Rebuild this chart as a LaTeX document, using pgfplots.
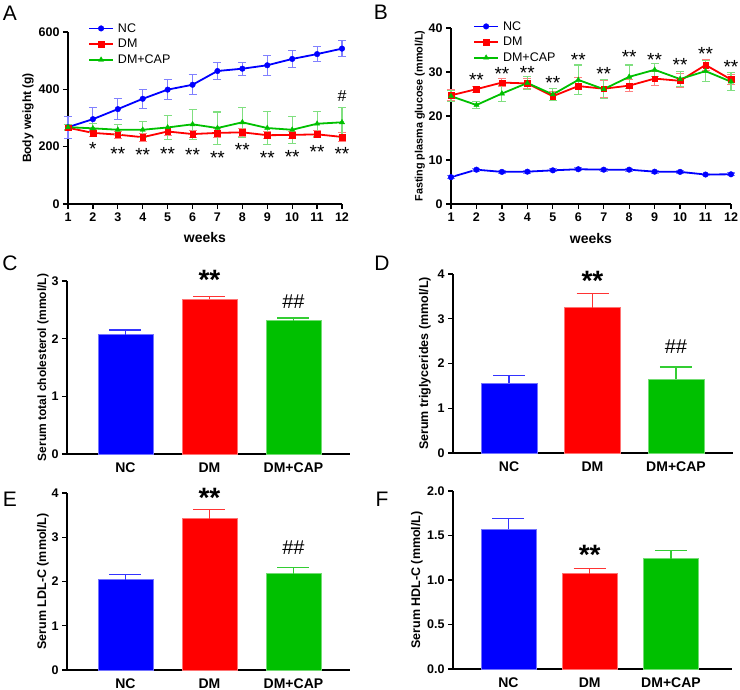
\documentclass[border=0pt]{standalone}
\usepackage{pgfplots}
\pgfplotsset{compat=1.18}
\usepackage{fontspec}
\setmainfont{Liberation Sans}

\definecolor{gpblue}{RGB}{0,0,255}
\definecolor{gpred}{RGB}{255,0,0}
\definecolor{gpgreen}{RGB}{0,192,0}

\pgfplotsset{
  prism/.style={
    scale only axis, clip=false,
    axis lines=left,
    axis line style={-, line width=1.7pt},
    tick align=outside,
    major tick length=5pt,
    tick style={black, line width=1.3pt},
    ticklabel style={font=\bfseries\fontsize{12.5}{14}\selectfont},
    /pgf/number format/assume math mode=true,
    ylabel style={anchor=center},
  },
  wk/.style={prism, xmin=1, xmax=12, xtick={1,...,12}, xlabel={weeks},
    xlabel style={font=\bfseries\fontsize{14}{16}\selectfont,
      at={(axis description cs:0.5,-0.195)}, anchor=center},
    legend cell align=left,
    legend image code/.code={\draw[mark repeat=2, mark phase=2, ##1]
      plot coordinates {(0pt,0pt) (12pt,0pt) (24pt,0pt)};},
    legend style={draw=none, fill=none, anchor=north west,
      font=\fontsize{12.5}{14}\selectfont, row sep=1.5pt,
      nodes={inner xsep=4pt}},
  },
  bars/.style={prism, xtick={0,1,2}, xticklabels={NC,DM,DM+CAP},
    xtick style={draw=none},
    xticklabel style={font=\bfseries\fontsize{14}{16}\selectfont},
  },
  grp/.style={line width=1.8pt, #1, mark options={solid, line width=0.4pt},
    /pgfplots/error bars/y dir=both, /pgfplots/error bars/y explicit,
    /pgfplots/error bars/error bar style={#1!50, line width=1.1pt},
    /pgfplots/error bars/error mark options={rotate=90, #1!50, mark size=4pt, line width=1.1pt}},
  bar/.style n args={2}{ybar, bar width=#2, bar shift=0pt, fill=#1, draw=#1!55, line width=0.6pt,
    /pgfplots/error bars/y dir=plus, /pgfplots/error bars/y explicit,
    /pgfplots/error bars/error bar style={#1!80, line width=1.2pt},
    /pgfplots/error bars/error mark options={rotate=90, #1!80, mark size=16pt, line width=1.2pt}},
  stars/.style n args={2}{draw=none, mark=none, forget plot, nodes near coords,
    point meta=explicit symbolic,
    every node near coord/.append style={anchor=center, font=#1, yshift=#2, text=black}},
}

\begin{document}
\begin{tikzpicture}
\useasboundingbox (0,0) rectangle (740pt,-690pt);

% panel letters
\node[font=\fontsize{21}{21}\selectfont] at (10pt,-13pt) {A};
\node[font=\fontsize{21}{21}\selectfont] at (381pt,-12pt) {B};
\node[font=\fontsize{21}{21}\selectfont] at (10pt,-263pt) {C};
\node[font=\fontsize{21}{21}\selectfont] at (382pt,-263pt) {D};
\node[font=\fontsize{21}{21}\selectfont] at (10pt,-499pt) {E};
\node[font=\fontsize{21}{21}\selectfont] at (382pt,-499pt) {F};

% A: body weight
\begin{axis}[wk, at={(68pt,-204pt)}, anchor=south west, width=274pt, height=172pt,
  ymin=0, ymax=600, ytick={0,200,400,600},
  ylabel={Body weight (g)},
  ylabel style={font=\bfseries\fontsize{12}{14}\selectfont, at={(axis description cs:-0.146,0.5)}},
  legend style={at={(axis description cs:0.062,1.075)}}]
\addplot[grp=gpblue, mark=*, mark size=2.8pt] coordinates {
  (1,268) +- (0,38) (2,296) +- (0,41) (3,331) +- (0,36) (4,367) +- (0,34)
  (5,399) +- (0,34) (6,416) +- (0,35) (7,464) +- (0,31) (8,472) +- (0,23)
  (9,484) +- (0,35) (10,506) +- (0,31) (11,523) +- (0,27) (12,542) +- (0,29)};
\addlegendentry{NC}
\addplot[grp=gpred, mark=square*, mark size=2.8pt] coordinates {
  (1,266) +- (0,10) (2,248) +- (0,12) (3,242) +- (0,12) (4,233) +- (0,14)
  (5,253) +- (0,14) (6,244) +- (0,12) (7,248) +- (0,16) (8,250) +- (0,14)
  (9,240) +- (0,13) (10,241) +- (0,12) (11,243) +- (0,12) (12,234) +- (0,16)};
\addlegendentry{DM}
\addplot[grp=gpgreen, mark=triangle*, mark size=3pt] coordinates {
  (1,268) +- (0,10) (2,264) +- (0,16) (3,259) +- (0,18) (4,259) +- (0,28)
  (5,267) +- (0,42) (6,278) +- (0,53) (7,265) +- (0,56) (8,285) +- (0,53)
  (9,265) +- (0,57) (10,259) +- (0,47) (11,280) +- (0,43) (12,285) +- (0,53)};
\addlegendentry{DM+CAP}
\addplot[stars={\fontsize{19}{19}\selectfont}{-4pt}] coordinates {
  (2,205) [*] (3,190) [**] (4,184) [**] (5,190) [**] (6,184) [**] (7,174) [**]
  (8,201) [**] (9,174) [**] (10,178) [**] (11,195) [**] (12,187) [**]};
\addplot[stars={\fontsize{16}{16}\selectfont}{0pt}] coordinates {(12,376) [\#]};
\end{axis}

% B: fasting plasma glucose
\begin{axis}[wk, at={(451pt,-204pt)}, anchor=south west, width=280pt, height=176pt,
  ymin=0, ymax=40, ytick={0,10,20,30,40},
  ylabel={Fasting plasma glucose (mmol/L)},
  ylabel style={font=\bfseries\fontsize{10.8}{12}\selectfont, at={(axis description cs:-0.111,0.5)}},
  legend style={at={(axis description cs:0.068,1.062)}}]
\addplot[grp=gpblue, mark=*, mark size=2.8pt] coordinates {
  (1,6.1) +- (0,0.3) (2,7.8) +- (0,0.3) (3,7.3) +- (0,0.3) (4,7.35) +- (0,0.3)
  (5,7.65) +- (0,0.3) (6,7.9) +- (0,0.3) (7,7.8) +- (0,0.3) (8,7.8) +- (0,0.3)
  (9,7.35) +- (0,0.3) (10,7.3) +- (0,0.3) (11,6.7) +- (0,0.3) (12,6.75) +- (0,0.3)};
\addlegendentry{NC}
\addplot[grp=gpred, mark=square*, mark size=2.8pt] coordinates {
  (1,24.7) +- (0,1.3) (2,26.1) +- (0,0.7) (3,27.6) +- (0,0.9) (4,27.4) +- (0,1.1)
  (5,24.5) +- (0,1.0) (6,26.8) +- (0,1.9) (7,26.2) +- (0,1.9) (8,26.9) +- (0,1.4)
  (9,28.5) +- (0,1.6) (10,28.0) +- (0,1.6) (11,31.6) +- (0,1.2) (12,28.3) +- (0,1.2)};
\addlegendentry{DM}
\addplot[grp=gpgreen, mark=triangle*, mark size=3pt] coordinates {
  (1,24.5) +- (0,1.3) (2,22.5) +- (0,0.8) (3,25.1) +- (0,1.9) (4,27.5) +- (0,1.4)
  (5,24.9) +- (0,1.3) (6,28.2) +- (0,3.4) (7,26.1) +- (0,2.2) (8,28.9) +- (0,2.7)
  (9,30.5) +- (0,1.5) (10,28.4) +- (0,1.7) (11,30.2) +- (0,2.4) (12,27.8) +- (0,2.0)};
\addlegendentry{DM+CAP}
\addplot[stars={\fontsize{19}{19}\selectfont}{-4pt}] coordinates {
  (2,29.2) [**] (3,30.5) [**] (4,30.8) [**] (5,28.5) [**] (6,33.6) [**] (7,30.4) [**]
  (8,34.3) [**] (9,33.6) [**] (10,32.4) [**] (11,35.1) [**] (12,32.0) [**]};
\end{axis}

% C: total cholesterol
\begin{axis}[bars, at={(67pt,-454pt)}, anchor=south west, width=283pt, height=173pt,
  xmin=-0.696, xmax=2.673, ymin=0, ymax=3, ytick={0,1,2,3},
  ylabel={Serum total cholesterol (mmol/L)},
  ylabel style={font=\bfseries\fontsize{12}{14}\selectfont, at={(axis description cs:-0.085,0.5)}}]
\addplot[bar={gpblue}{55pt}] coordinates {(0,2.07) +- (0,0.08)};
\addplot[bar={gpred}{55pt}] coordinates {(1,2.68) +- (0,0.05)};
\addplot[bar={gpgreen}{55pt}] coordinates {(2,2.31) +- (0,0.05)};
\addplot[stars={\bfseries\fontsize{28}{28}\selectfont}{-6pt}] coordinates {(1,3.12) [**]};
\addplot[stars={\fontsize{20}{20}\selectfont}{0pt}] coordinates {(2,2.64) [\#\#]};
\end{axis}

% D: triglycerides
\begin{axis}[bars, at={(453pt,-453pt)}, anchor=south west, width=280pt, height=179pt,
  xmin=-0.671, xmax=2.683, ymin=0, ymax=4, ytick={0,1,2,3,4},
  ylabel={Serum triglycerides (mmol/L)},
  ylabel style={font=\bfseries\fontsize{12.5}{14}\selectfont, at={(axis description cs:-0.1,0.5)}}]
\addplot[bar={gpblue}{56pt}] coordinates {(0,1.56) +- (0,0.18)};
\addplot[bar={gpred}{56pt}] coordinates {(1,3.25) +- (0,0.32)};
\addplot[bar={gpgreen}{56pt}] coordinates {(2,1.65) +- (0,0.27)};
\addplot[stars={\bfseries\fontsize{28}{28}\selectfont}{-6pt}] coordinates {(1,3.98) [**]};
\addplot[stars={\fontsize{20}{20}\selectfont}{0pt}] coordinates {(2,2.38) [\#\#]};
\end{axis}

% E: LDL-C
\begin{axis}[bars, at={(67pt,-670pt)}, anchor=south west, width=283pt, height=177pt,
  xmin=-0.696, xmax=2.673, ymin=0, ymax=4, ytick={0,1,2,3,4},
  ylabel={Serum LDL-C (mmol/L)},
  ylabel style={font=\bfseries\fontsize{12.5}{14}\selectfont, at={(axis description cs:-0.085,0.5)}}]
\addplot[bar={gpblue}{55pt}] coordinates {(0,2.04) +- (0,0.11)};
\addplot[bar={gpred}{55pt}] coordinates {(1,3.42) +- (0,0.21)};
\addplot[bar={gpgreen}{55pt}] coordinates {(2,2.18) +- (0,0.14)};
\addplot[stars={\bfseries\fontsize{28}{28}\selectfont}{-6pt}] coordinates {(1,4.02) [**]};
\addplot[stars={\fontsize{20}{20}\selectfont}{0pt}] coordinates {(2,2.76) [\#\#]};
\end{axis}

% F: HDL-C
\begin{axis}[bars, at={(453pt,-669pt)}, anchor=south west, width=279pt, height=178pt,
  xmin=-0.683, xmax=2.751, ymin=0, ymax=2, ytick={0,0.5,1,1.5,2},
  yticklabel style={/pgf/number format/.cd, fixed, fixed zerofill, precision=1},
  ylabel={Serum HDL-C (mmol/L)},
  ylabel style={font=\bfseries\fontsize{12.5}{14}\selectfont, at={(axis description cs:-0.129,0.5)}}]
\addplot[bar={gpblue}{55pt}] coordinates {(0,1.57) +- (0,0.12)};
\addplot[bar={gpred}{55pt}] coordinates {(1,1.07) +- (0,0.06)};
\addplot[bar={gpgreen}{55pt}] coordinates {(2,1.24) +- (0,0.09)};
\addplot[stars={\bfseries\fontsize{28}{28}\selectfont}{-6pt}] coordinates {(1,1.35) [**]};
\end{axis}
\end{tikzpicture}
\end{document}
